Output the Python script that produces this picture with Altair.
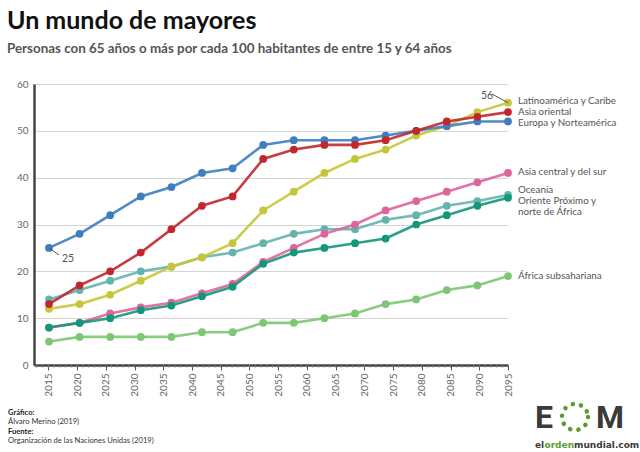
import altair as alt
import pandas as pd

# ---- data -------------------------------------------------------------
# sixteen observations per region, spread over the 2015-2095 axis
obs = [2015, 2020, 2025, 2030, 2035, 2040, 2045, 2050,
       2055, 2060, 2065, 2070, 2075, 2080, 2085, 2090]
axis_years = [2015, 2020, 2025, 2030, 2035, 2040, 2045, 2050, 2055,
              2060, 2065, 2070, 2075, 2080, 2085, 2090, 2095]
minor_years = list(range(2013, 2096))

regions = ["África subsahariana", "Oceanía", "Asia central y del sur",
           "Oriente Próximo y norte de África", "Latinoamérica y Caribe",
           "Europa y Norteamérica", "Asia oriental"]

africa = [5, 6, 6, 6, 6, 7, 7, 9, 9, 10, 11, 13, 14, 16, 17, 19]
oceania = [14, 16, 18, 20, 21, 23, 24, 26, 28, 29, 29, 31, 32, 34, 35, 36.3]
asia_sur = [8, 9, 11, 12.3, 13.3, 15.3, 17.3, 22, 25, 28, 30, 33, 35, 37, 39, 41]
oriente = [8, 9, 10, 11.7, 12.7, 14.7, 16.7, 21.6, 24, 25, 26, 27, 30, 32, 34, 35.7]
latam = [12, 13, 15, 18, 21, 23, 26, 33, 37, 41, 44, 46, 49, 51, 54, 56]
europa = [25, 28, 32, 36, 38, 41, 42, 47, 48, 48, 48, 49, 50, 51, 52, 52]
asia_or = [13, 17, 20, 24, 29, 34, 36, 44, 46, 47, 47, 48, 50, 52, 53, 54]

values = [africa, oceania, asia_sur, oriente, latam, europa, asia_or]
colors = ["#7dc674", "#63b4ae", "#df649b", "#13977a", "#c6c63a", "#3d7ebf", "#c1272d"]

W, H = 474, 281
FONT = "Lato"
TXT = "#555555"

x_data = alt.Scale(domain=[2012.55, 2090])
x_axis_scale = alt.Scale(domain=[2012.5, 2095])
y_scale = alt.Scale(domain=[0, 60])

# one shared y axis definition, repeated on every layer that encodes y
y_axis = alt.Axis(values=[0, 10, 20, 30, 40, 50, 60], grid=True, gridColor="#d4d4d4",
                  gridWidth=1.2, domain=True, domainColor="#444444", domainWidth=2.5,
                  ticks=False, labelColor="#666666", labelFontSize=10, labelFont=FONT,
                  labelPadding=6, title=None, orient="left")


def y_enc():
    return alt.Y("value:Q", scale=y_scale, axis=y_axis)


layers = []

# x axis with major ticks and rotated year labels
axis_df = pd.DataFrame({"year": axis_years})
layers.append(
    alt.Chart(axis_df).mark_point(opacity=0).encode(
        x=alt.X("year:Q", scale=x_axis_scale,
                axis=alt.Axis(values=axis_years, orient="bottom", labelAngle=-90,
                              format="d", tickSize=5, tickColor="#555555", tickWidth=1,
                              domainColor="#444444", domainWidth=2.5, grid=False,
                              labelColor="#666666", labelFontSize=10, labelFont=FONT,
                              labelPadding=3, title=None)),
        y=alt.value(0),
    )
)
# minor ticks, one per year
minor_df = pd.DataFrame({"year": minor_years})
layers.append(
    alt.Chart(minor_df).mark_rule(color="#777777", strokeWidth=1).encode(
        x=alt.X("year:Q", scale=x_axis_scale, axis=None),
        y=alt.value(H),
        y2=alt.value(H + 2.5),
    )
)

for name, vals, col in zip(regions, values, colors):
    df = pd.DataFrame({"year": obs, "value": vals, "region": name})
    base = alt.Chart(df).encode(x=alt.X("year:Q", scale=x_data, axis=None), y=y_enc())
    layers.append(base.mark_line(color=col, strokeWidth=2.6, opacity=0.9))
    layers.append(base.mark_circle(color=col, size=60, opacity=1))

# end-of-line labels
LABEL_SIZE = 9.8
label_shift = {
    "Latinoamérica y Caribe": -1.8,
    "Asia oriental": 0,
    "Europa y Norteamérica": 1.6,
    "Asia central y del sur": -1.3,
    "Oceanía": -5.4,
    "África subsahariana": 0,
}
for name, vals in zip(regions, values):
    last = pd.DataFrame({"value": [vals[-1]]})
    if name == "Oriente Próximo y norte de África":
        for line, dy in (("Oriente Próximo y", 2.8), ("norte de África", 14)):
            layers.append(
                alt.Chart(last).mark_text(text=line, align="left", baseline="middle",
                                          dy=dy, font=FONT, fontSize=LABEL_SIZE, color=TXT)
                .encode(x=alt.value(W + 10), y=y_enc())
            )
    else:
        layers.append(
            alt.Chart(last).mark_text(text=name, align="left", baseline="middle",
                                      dy=label_shift[name], font=FONT, fontSize=LABEL_SIZE,
                                      color=TXT)
            .encode(x=alt.value(W + 10), y=y_enc())
        )

# value callouts on the first Europe point and the last Latin America point
first_eu = pd.DataFrame({"year": [obs[0]], "value": [europa[0]]})
last_la = pd.DataFrame({"year": [obs[-1]], "value": [latam[-1]]})
layers.append(
    alt.Chart(first_eu).mark_rule(color="#555555", strokeWidth=1).encode(
        x=alt.X("year:Q", scale=x_data, axis=None), y=y_enc(),
        x2=alt.value(25), y2=alt.value(171))
)
layers.append(
    alt.Chart(first_eu).mark_text(align="center", baseline="middle", dx=19, dy=11,
                                  font=FONT, fontSize=10.5, color=TXT).encode(
        x=alt.X("year:Q", scale=x_data, axis=None), y=y_enc(),
        text=alt.Text("value:Q", format="d"))
)
layers.append(
    alt.Chart(last_la).mark_rule(color="#555555", strokeWidth=1).encode(
        x=alt.X("year:Q", scale=x_data, axis=None), y=y_enc(),
        x2=alt.value(458), y2=alt.value(10))
)
layers.append(
    alt.Chart(last_la).mark_text(align="center", baseline="middle", dx=-21, dy=-7,
                                 font=FONT, fontSize=10.5, color=TXT).encode(
        x=alt.X("year:Q", scale=x_data, axis=None), y=y_enc(),
        text=alt.Text("value:Q", format="d"))
)

one = pd.DataFrame({"k": [0]})


def text_at(txt, x, y, size, color="#222222", weight="normal", align="left", font=FONT):
    return alt.Chart(one).mark_text(text=txt, align=align, baseline="alphabetic",
                                    font=font, fontSize=size, fontWeight=weight,
                                    color=color).encode(x=alt.value(x), y=alt.value(y))


# title block
layers.append(text_at("Un mundo de mayores", -27, -55, 25, "#111111", "bold"))
layers.append(text_at("Personas con 65 años o más por cada 100 habitantes de entre 15 y 64 años",
                      -27, -31, 13.4, TXT, "bold"))

# credits
layers.append(text_at("Gráfico:", -26, 331, 7.6, "#222222", "bold"))
layers.append(text_at("Álvaro Merino (2019)", -26, 340, 7.6, "#333333"))
layers.append(text_at("Fuente:", -26, 350, 7.6, "#222222", "bold"))
layers.append(text_at("Organización de las Naciones Unidas (2019)", -26, 359, 7.6, "#333333"))

# logo
GREEN = "#5a9b30"
LOGO = "#3a3a3a"
layers.append(text_at("E", 501, 344, 32, LOGO, "bold", font="Roboto"))
layers.append(text_at("M", 562, 344, 32, LOGO, "bold", font="Roboto"))
layers.append(
    alt.Chart(one).mark_point(shape="circle", filled=False, size=680, color=GREEN,
                              strokeWidth=4.5, strokeDash=[0.1, 8.3], strokeCap="round",
                              opacity=1)
    .encode(x=alt.value(541), y=alt.value(333))
)
layers.append(text_at("el", 501, 364, 9, LOGO, "bold", font="DejaVu Sans"))
layers.append(text_at("orden", 510.5, 364, 9, GREEN, "bold", font="DejaVu Sans"))
layers.append(text_at("mundial.com", 540, 364, 9, LOGO, "bold", font="DejaVu Sans"))

chart = alt.layer(*layers).resolve_scale(x="independent").properties(
    width=W, height=H,
    autosize=alt.AutoSizeParams(type="none"),
    padding={"left": 34, "top": 84, "right": 132, "bottom": 87},
    background="white",
).configure_view(strokeWidth=0)

chart.save("out.html", embed_options={"renderer": "svg", "actions": False})
